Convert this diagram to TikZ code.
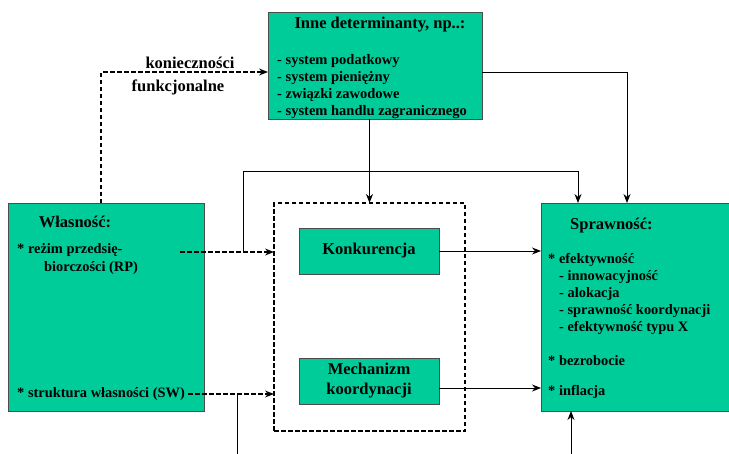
\documentclass[tikz,border=0pt]{standalone}
\usepackage{fontspec}
\setmainfont{Liberation Serif}[BoldFont={Liberation Serif Bold}]
\usetikzlibrary{arrows.meta,calc}
\definecolor{boxgreen}{RGB}{0,204,153}
\begin{document}
\begin{tikzpicture}[x=1pt,y=-1pt,
  box/.style={draw=black!70, fill=boxgreen, line width=0.9pt, inner sep=0pt, outer sep=0pt, anchor=north west},
  dbox/.style={draw=black, dash pattern=on 4.5pt off 2.5pt, line width=1.7pt, inner sep=0pt, outer sep=0pt, anchor=north west},
  big/.style={font=\bfseries\fontsize{16.5}{20}\selectfont, inner sep=0pt, text=black},
  small/.style={font=\bfseries\fontsize{14.4}{17}\selectfont, inner sep=0pt, anchor=west, text=black},
  smalltop/.style={small, font=\bfseries\fontsize{14.5}{17}\selectfont},
  conn/.style={line width=0.9pt, draw=black},
  arr/.style={conn, -{Stealth[length=9pt,width=7pt]}},
  darr/.style={draw=black, line width=1.7pt, dash pattern=on 4.5pt off 2.5pt, -{Stealth[length=9pt,width=7pt,line width=0pt]}}
]
\useasboundingbox (0,0) rectangle (729,453);
\clip (0,0) rectangle (729,453);

% boxes
\node[box, minimum width=214pt, minimum height=107pt] (inne) at (268,12) {};
\node[box, minimum width=196pt, minimum height=208pt] (wlas) at (8,203) {};
\node[box, minimum width=200pt, minimum height=208pt] (spraw) at (541,203) {};
\node[dbox, minimum width=191pt, minimum height=228pt] (dframe) at (274,203) {};
\node[box, minimum width=140pt, minimum height=46pt] (konk) at (299,228) {};
\node[box, minimum width=140pt, minimum height=46pt] (mech) at (299,358) {};

% texts: top box
\node[big] (inneT) at (380,25) {Inne determinanty, np..:};
\node[smalltop] (i1) at (277,61) {- system podatkowy};
\node[smalltop] (i2) at (277,78) {- system pieniężny};
\node[smalltop] (i3) at (277,95) {- związki zawodowe};
\node[smalltop] (i4) at (277,112) {- system handlu zagranicznego};

% left box
\node[big] (wlasT) at (75,222) {Własność:};
\node[small] (w1) at (17,250) {* reżim przedsię-};
\node[small] (w2) at (44,268) {biorczości (RP)};
\node[small] (w3) at (17,394) {* struktura własności (SW)};

% right box
\node[big, anchor=west] (sprawT) at (570,226) {Sprawność:};
\node[small] (s1) at (548,260) {* efektywność};
\node[small] (s2) at (559,277) {- innowacyjność};
\node[small] (s3) at (559,294) {- alokacja};
\node[small] (s4) at (559,311) {- sprawność koordynacji};
\node[small] (s5) at (559,328) {- efektywność typu X};
\node[small] (s6) at (548,361) {* bezrobocie};
\node[small] (s7) at (548,392) {* inflacja};

% inner boxes
\node[big] (konkT) at (konk.center) {Konkurencja};
\node[big, align=center] (mechT) at (mech.center) {Mechanizm\\koordynacji};

% labels
\node[big] (lab1) at (190,63) {konieczności};
\node[big] (lab2) at (178,87) {funkcjonalne};

% coordinates
\coordinate (inneIn) at ($(inne.north west)+(0,60)$);
\coordinate (inneOut) at ($(inne.north east)+(0,60)$);
\coordinate (wlasUp) at ($(wlas.north west)+(93,0)$);
\coordinate (rpStart) at (180,252);
\coordinate (swStart) at (188,394);
\coordinate (fbJoin) at (243,252);
\coordinate (swJoin) at (237,394);
\coordinate (bottomL) at (237,455);
\coordinate (bottomR) at (571,455);
\coordinate (sprTopA) at ($(spraw.north west)+(37,0)$);
\coordinate (sprTopB) at ($(spraw.north west)+(86,0)$);
\coordinate (sprBot) at ($(spraw.south west)+(30,0)$);

% connectors
\draw[darr] (wlasUp) |- (inneIn);
\draw[arr] (inne.south -| dframe.north) -- (dframe.north);
\draw[arr] (inneOut) -| (sprTopB);
\draw[arr] (fbJoin) |- ($(sprTopA)+(0,-32)$) -- (sprTopA);
\draw[darr] (rpStart) -- (rpStart -| dframe.west);
\draw[darr] (swStart) -- (swStart -| dframe.west);
\draw[conn] (bottomL) -- (swJoin);
\draw[arr] (konk.east) -- (konk.east -| spraw.west);
\draw[arr] ($(mech.east)+(0,7)$) -- ($(mech.east -| spraw.west)+(0,7)$);
\draw[arr] (bottomR) -- (sprBot);
\end{tikzpicture}
\end{document}
